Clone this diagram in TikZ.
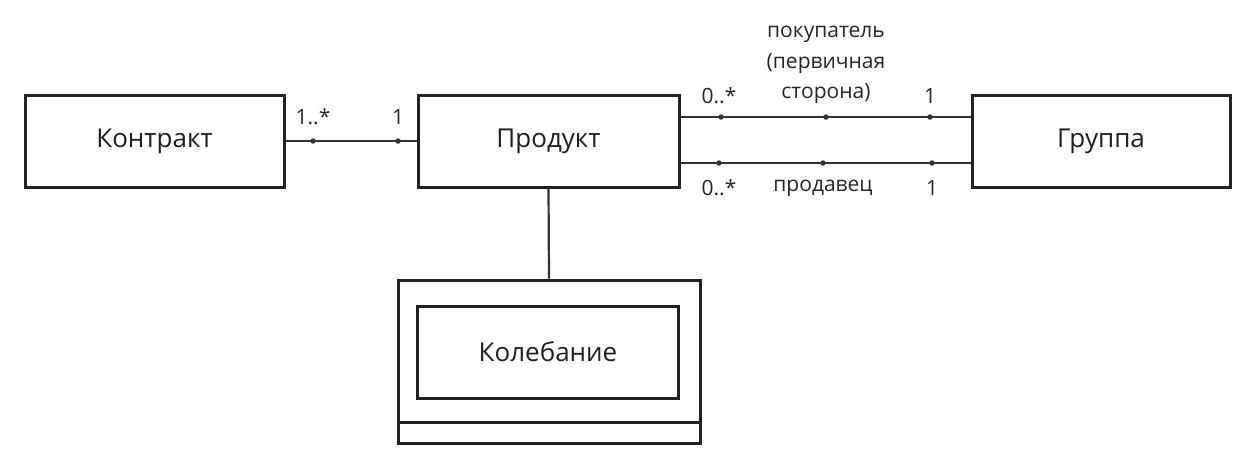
\documentclass[tikz,border=0pt]{standalone}
\usepackage{fontspec}
\setmainfont{Open Sans}
\begin{document}
\begin{tikzpicture}[x=1pt,y=-1pt,
  box/.style={draw=black!87,line width=3pt,inner sep=0pt},
  conn/.style={draw=black!80,line width=2.2pt},
  dot/.style={circle,fill=black!80,inner sep=0pt,minimum size=5.5pt},
  lbl/.style={font=\fontsize{21}{24}\selectfont,text=black!85,inner sep=0pt,align=center},
  boxlabel/.style={font=\fontsize{26}{30}\selectfont,text=black!88}]
\useasboundingbox[fill=white] (0,0) rectangle (1253,464);
% boxes
\node[box,minimum width=259pt,minimum height=92pt] (k) at (154.5,141) {};
\node[boxlabel] (kt) at (k.center) {Контракт};
\node[box,minimum width=261pt,minimum height=92pt] (p) at (548.5,141) {};
\node[boxlabel] (pt) at (p.center) {Продукт};
\node[box,minimum width=258pt,minimum height=92pt] (g) at (1101,141) {};
\node[boxlabel] (gt) at (g.center) {Группа};
% fluctuation box
\node[box,minimum width=302pt,minimum height=163pt] (f) at (549,361.5) {};
\node[box,minimum width=261pt,minimum height=92pt] (fi) at (548,352) {};
\node[boxlabel] (ft) at (fi.center) {Колебание};
\coordinate (sl) at (398,422);
\coordinate (sr) at (700,422);
\draw[box] (sl) -- (sr);
% connector contract-product
\draw[conn] (k.east) -- (p.west);
\node[dot] (d1) at (313,141) {};
\node[dot] (d2) at (398,141) {};
\node[lbl] (l1) at (313,117) {1..*};
\node[lbl] (l2) at (398,117) {1};
% product - fluctuation
\draw[conn] (p.south) -- (f.north);
% product-group lines
\coordinate (pa) at (p.east |- 0,117);
\coordinate (ga) at (g.west |- 0,117);
\coordinate (pb) at (p.east |- 0,163);
\coordinate (gb) at (g.west |- 0,163);
\draw[conn] (pa) -- (ga);
\draw[conn] (pb) -- (gb);
\node[dot] (d3) at (721,117) {};
\node[dot] (d4) at (826,117) {};
\node[dot] (d5) at (930,117) {};
\node[dot] (d6) at (719,163) {};
\node[dot] (d7) at (823,163) {};
\node[dot] (d8) at (932,163) {};
\node[lbl] (l3) at (719,96) {0..*};
\node[lbl] (l4) at (930,96) {1};
\node[lbl] (l5) at (826,34) {покупатель};
\node[lbl] (l6) at (826,64) {(первичная};
\node[lbl] (l7) at (826,94) {сторона)};
\node[lbl] (l8) at (719,188) {0..*};
\node[lbl] (l9) at (823,188) {продавец};
\node[lbl] (l10) at (932,188) {1};
\end{tikzpicture}
\end{document}
